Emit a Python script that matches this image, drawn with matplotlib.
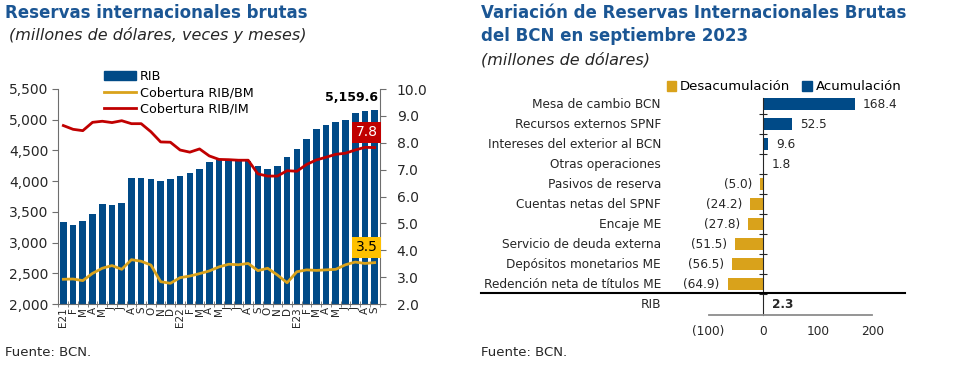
import matplotlib.pyplot as plt
import numpy as np
from matplotlib.patches import Patch
from matplotlib.lines import Line2D
import matplotlib.transforms as mtransforms

# left chart data
months = ['E21', 'F', 'M', 'A', 'M', 'J', 'J', 'A', 'S', 'O', 'N', 'D',
          'E22', 'F', 'M', 'A', 'M', 'J', 'J', 'A', 'S', 'O', 'N', 'D',
          'E23', 'F', 'M', 'A', 'M', 'J', 'J', 'A', 'S']
rib = [3330, 3280, 3350, 3470, 3620, 3610, 3640, 4050, 4050, 4030, 4000, 4040,
       4080, 4130, 4200, 4310, 4340, 4340, 4320, 4320, 4240, 4200, 4250, 4400,
       4520, 4680, 4850, 4910, 4970, 4990, 5110, 5150, 5159.6]
cob_bm = [2.92, 2.93, 2.87, 3.14, 3.33, 3.43, 3.29, 3.65, 3.59, 3.45, 2.83, 2.77,
          2.98, 3.04, 3.13, 3.23, 3.38, 3.48, 3.46, 3.51, 3.24, 3.33, 3.08, 2.79,
          3.20, 3.27, 3.25, 3.27, 3.29, 3.46, 3.56, 3.51, 3.54]
cob_im = [8.64, 8.50, 8.45, 8.76, 8.80, 8.75, 8.82, 8.71, 8.71, 8.41, 8.03, 8.02,
          7.73, 7.65, 7.77, 7.51, 7.38, 7.37, 7.35, 7.35, 6.84, 6.76, 6.76, 6.96,
          6.94, 7.19, 7.36, 7.46, 7.57, 7.61, 7.73, 7.83, 7.82]
left_ticks = [2000, 2500, 3000, 3500, 4000, 4500, 5000, 5500]
right_ticks = [2.0, 3.0, 4.0, 5.0, 6.0, 7.0, 8.0, 9.0, 10.0]

# right chart data
categories = ['Mesa de cambio BCN', 'Recursos externos SPNF',
              'Intereses del exterior al BCN', 'Otras operaciones',
              'Pasivos de reserva', 'Cuentas netas del SPNF', 'Encaje ME',
              'Servicio de deuda externa', 'Depósitos monetarios ME',
              'Redención neta de títulos ME', 'RIB']
variacion = [168.4, 52.5, 9.6, 1.8, -5.0, -24.2, -27.8, -51.5, -56.5, -64.9, 2.3]
var_ticks = [-100, 0, 100, 200]

BLUE = '#004A87'
GOLD = '#D9A21B'
RED = '#C00000'
TITLE = '#1B5694'
SPINE = '#6E6E6E'

W, H = 974, 369
fig = plt.figure(figsize=(W / 100, H / 100), dpi=100)
plt.rcParams['font.family'] = 'DejaVu Sans'


def fx(px):
    return px / W


def fy(py):
    return 1 - py / H


# ---------------- left chart ----------------
fig.text(fx(5), fy(13), 'Reservas internacionales brutas', fontsize=12,
         fontweight='bold', color=TITLE, va='center')
fig.text(fx(9), fy(35), '(millones de dólares, veces y meses)', fontsize=11.5,
         style='italic', color='#262626', va='center')
fig.text(fx(5), fy(353), 'Fuente: BCN.', fontsize=9.5, color='#262626', va='center')

ax = fig.add_axes([fx(58), fy(304), fx(380) - fx(58), fy(89) - fy(304)])
x = np.arange(len(months))
ax.bar(x, rib, width=0.68, color=BLUE, zorder=2)
ax.set_xlim(-0.55, len(months) - 0.45)
ax.set_ylim(2000, 5500)
ax.set_yticks(left_ticks)
ax.set_yticklabels([f'{v:,.0f}' for v in left_ticks], fontsize=10, color='#262626')
ax.set_xticks(x)
ax.set_xticklabels(months, rotation=90, fontsize=7.5, color='#262626')
ax.set_xticks(np.arange(-0.5, len(months), 1), minor=True)
ax.tick_params(axis='x', which='major', length=0, pad=2)
ax.tick_params(axis='x', which='minor', length=5, direction='inout', color=SPINE)
ax.tick_params(axis='y', length=4, direction='out', color=SPINE, pad=3)
for s in ['top', 'right']:
    ax.spines[s].set_visible(False)
for s in ['left', 'bottom']:
    ax.spines[s].set_color(SPINE)

ax2 = ax.twinx()
ax2.plot(x, cob_bm, color=GOLD, lw=2, zorder=3)
ax2.plot(x, cob_im, color=RED, lw=2, zorder=3)
ax2.set_ylim(2, 10)
ax2.set_yticks(right_ticks)
ax2.set_yticklabels([f'{v:.1f}' for v in right_ticks], fontsize=10, color='#262626')
ax2.tick_params(axis='y', length=4, direction='out', color=SPINE, pad=8)
for s in ['top', 'left', 'bottom']:
    ax2.spines[s].set_visible(False)
ax2.spines['right'].set_color(SPINE)

ax.annotate(f'{rib[-1]:,.1f}', xy=(x[-1] + 0.3, rib[-1]), xytext=(0, 4),
            textcoords='offset points', ha='right', va='bottom',
            fontsize=9, fontweight='bold', color='black')
ax2.annotate(f'{cob_im[-1]:.1f}', xy=(x[-1] + 0.3, cob_im[-1]), xytext=(0, 6),
             textcoords='offset points', ha='right', va='bottom', fontsize=10,
             color='white',
             bbox=dict(boxstyle='square,pad=0.25', fc=RED, ec='none'))
ax2.annotate(f'{cob_bm[-1]:.1f}', xy=(x[-1] + 0.3, cob_bm[-1]), xytext=(0, 6),
             textcoords='offset points', ha='right', va='bottom', fontsize=10,
             color='black',
             bbox=dict(boxstyle='square,pad=0.25', fc='#FFC000', ec='none'))

fig.legend(handles=[Patch(color=BLUE), Line2D([], [], color=GOLD, lw=2),
                    Line2D([], [], color=RED, lw=2)],
           labels=['RIB', 'Cobertura RIB/BM', 'Cobertura RIB/IM'],
           loc='upper left', bbox_to_anchor=(fx(104), fy(70)), frameon=False,
           fontsize=9.2, handlelength=2.5, handleheight=0.6, handletextpad=0.3,
           labelspacing=0.25, borderpad=0, borderaxespad=0)

# ---------------- right chart ----------------
fig.text(fx(481), fy(13), 'Variación de Reservas Internacionales Brutas',
         fontsize=12, fontweight='bold', color=TITLE, va='center')
fig.text(fx(481), fy(36), 'del BCN en septiembre 2023', fontsize=12,
         fontweight='bold', color=TITLE, va='center')
fig.text(fx(481), fy(60), '(millones de dólares)', fontsize=11.5,
         style='italic', color='#262626', va='center')
fig.text(fx(481), fy(353), 'Fuente: BCN.', fontsize=9.5, color='#262626', va='center')

bx = fig.add_axes([fx(665), fy(315), fx(905) - fx(665), fy(92) - fy(315)])
rows = np.arange(len(categories))
colors = [BLUE if v >= 0 else GOLD for v in variacion]
bx.barh(rows, variacion, height=0.62, color=colors, zorder=2)
bx.set_xlim(-180, 260)
bx.set_ylim(len(categories) - 0.45, -0.615)
bx.spines['top'].set_visible(False)
bx.spines['right'].set_visible(False)
bx.spines['left'].set_position(('data', 0))
bx.spines['left'].set_bounds(-0.3, len(categories) - 0.45)
bx.spines['left'].set_color('#262626')
bx.spines['bottom'].set_bounds(-100, 200)
bx.spines['bottom'].set_color('#8C8C8C')
bx.spines['bottom'].set_linewidth(1.3)
bx.set_yticks(rows[:-1] + 0.5)
bx.set_yticklabels([])
bx.tick_params(axis='y', length=6, direction='inout', color='#262626')
bx.set_xticks(var_ticks)
bx.set_xticklabels([f'({-v})' if v < 0 else f'{v}' for v in var_ticks],
                   fontsize=8.7, color='#262626')
bx.tick_params(axis='x', length=0, pad=7)

lbl_tr = mtransforms.blended_transform_factory(bx.transAxes, bx.transData)
for i, (cat, v) in enumerate(zip(categories, variacion)):
    bx.annotate(cat, xy=(0, i), xycoords=lbl_tr, xytext=(-4, 0),
                textcoords='offset pixels', ha='right', va='center',
                fontsize=8.7, color='#262626')
    txt = f'{v:.1f}' if v >= 0 else f'({-v:.1f})'
    bold = cat == 'RIB'
    bx.annotate(txt, xy=(v, i), xytext=(8 if v >= 0 else -8, 0),
                textcoords='offset pixels', ha='left' if v >= 0 else 'right',
                va='center', fontsize=8.7, color='#262626',
                fontweight='bold' if bold else 'normal')

fig.add_artist(Line2D([fx(481), fx(905)], [fy(292.5), fy(292.5)],
                      transform=fig.transFigure, color='black', lw=1.5))

fig.legend(handles=[Patch(color=GOLD), Patch(color=BLUE)],
           labels=['Desacumulación', 'Acumulación'], loc='center left',
           bbox_to_anchor=(fx(667), fy(87)), frameon=False, ncol=2,
           fontsize=9.5, handlelength=0.7, handleheight=0.7,
           handletextpad=0.3, columnspacing=0.9, borderpad=0, borderaxespad=0)

fig.savefig('out.png', dpi=100)
